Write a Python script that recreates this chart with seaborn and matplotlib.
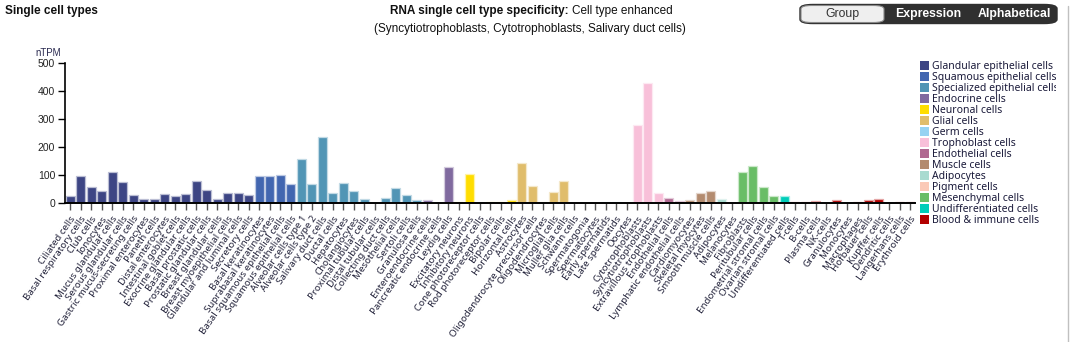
import matplotlib
matplotlib.use("Agg")
import matplotlib.pyplot as plt
import seaborn as sns
import pandas as pd
from matplotlib.patches import Patch, FancyBboxPatch
from matplotlib.lines import Line2D
from matplotlib.colors import to_rgb
from matplotlib.transforms import Bbox

# ---- data -------------------------------------------------------------
group_names = [
    "Glandular epithelial cells", "Squamous epithelial cells",
    "Specialized epithelial cells", "Endocrine cells", "Neuronal cells",
    "Glial cells", "Germ cells", "Trophoblast cells", "Endothelial cells",
    "Muscle cells", "Adipocytes", "Pigment cells", "Mesenchymal cells",
    "Undifferentiated cells", "Blood & immune cells",
]
group_colors = [
    "#3d4584", "#4266b0", "#5195b5", "#806a9f", "#ffdd00",
    "#e0bd6b", "#96d3f2", "#f8c0d9", "#b06891", "#b38b6f",
    "#a9dbd0", "#fbc9b7", "#69bd66", "#00cdb9", "#b30000",
]
group_sizes = [18, 4, 12, 3, 6, 6, 5, 3, 2, 3, 1, 1, 4, 1, 12]

cell_types = [
    "Ciliated cells", "Basal respiratory cells", "Club cells", "Ionocytes",
    "Mucus glandular cells", "Serous glandular cells",
    "Gastric mucus-secreting cells", "Proximal enterocytes", "Paneth cells",
    "Distal enterocytes", "Intestinal goblet cells", "Exocrine glandular cells",
    "Basal prostatic cells", "Prostatic glandular cells",
    "Breast glandular cells", "Breast myoepithelial cells",
    "Glandular and luminal cells", "Secretory cells",
    "Basal keratinocytes", "Suprabasal keratinocytes",
    "Basal squamous epithelial cells", "Squamous epithelial cells",
    "Alveolar cells type 1", "Alveolar cells type 2", "Salivary duct cells",
    "Ductal cells", "Hepatocytes", "Cholangiocytes", "Proximal tubular cells",
    "Distal tubular cells", "Collecting duct cells", "Mesothelial cells",
    "Sertoli cells", "Granulosa cells",
    "Enteroendocrine cells", "Pancreatic endocrine cells", "Leydig cells",
    "Excitatory neurons", "Inhibitory neurons", "Cone photoreceptor cells",
    "Rod photoreceptor cells", "Bipolar cells", "Horizontal cells",
    "Astrocytes", "Oligodendrocyte precursor cells", "Oligodendrocytes",
    "Microglial cells", "Muller glia cells", "Schwann cells",
    "Spermatogonia", "Spermatocytes", "Early spermatids", "Late spermatids",
    "Oocytes",
    "Cytotrophoblasts", "Syncytiotrophoblasts", "Extravillous trophoblasts",
    "Endothelial cells", "Lymphatic endothelial cells",
    "Cardiomyocytes", "Skeletal myocytes", "Smooth muscle cells",
    "Adipocytes", "Melanocytes",
    "Fibroblasts", "Peritubular cells", "Endometrial stromal cells",
    "Ovarian stromal cells", "Undifferentiated cells",
    "T-cells", "B-cells", "Plasma cells", "NK-cells", "Granulocytes",
    "Monocytes", "Macrophages", "Hofbauer cells", "Kupffer cells",
    "Dendritic cells", "Langerhans cells", "Erythroid cells",
]

ntpm = [
    25, 98, 58, 42, 110, 74, 27, 15, 13, 32, 24, 31, 79, 48, 13, 37, 35, 27,
    98, 96, 100, 68,
    156, 67, 236, 35, 71, 43, 14, 0, 19, 54, 29, 10,
    12, 0, 129,
    2, 105, 0, 3, 4, 11,
    142, 62, 2, 40, 80, 1,
    0, 0, 3, 3, 0,
    280, 430, 36,
    18, 6,
    10, 36, 44,
    15, 1,
    112, 133, 58, 26, 26,
    4, 4, 7, 0, 10, 0, 5, 12, 13, 0, 5, 5,
]

cell_group = [g for g, n in zip(group_names, group_sizes) for _ in range(n)]
df = pd.DataFrame({"cell": cell_types, "group": cell_group, "ntpm": ntpm})
palette = dict(zip(group_names, group_colors))

# ---- figure -----------------------------------------------------------
sns.set_theme(style="white")
plt.rcParams["font.family"] = ["Liberation Sans", "DejaVu Sans"]

W, H = 1070, 342
fig = plt.figure(figsize=(W / 100, H / 100), dpi=100)
ax = fig.add_axes([65 / W, 1 - 203 / H, 850.5 / W, 140 / H])

sns.barplot(data=df, x="cell", y="ntpm", hue="group", palette=palette,
            dodge=False, width=0.86, legend=False, ax=ax, saturation=1)


def lighten(c, amt=0.6):
    r, g, b = to_rgb(c)
    return (r + (1 - r) * amt, g + (1 - g) * amt, b + (1 - b) * amt)


for bar in ax.patches:
    bar.set_edgecolor(lighten(bar.get_facecolor()[:3], 0.65))
    bar.set_linewidth(0.9)

ax.set_xlim(-0.5, len(cell_types) - 0.5)
ax.set_ylim(0, 500)
ax.set_yticks([0, 100, 200, 300, 400, 500])
ax.set_xlabel("")
ax.set_ylabel("")
for s in ["top", "right"]:
    ax.spines[s].set_visible(False)
ax.spines["left"].set_color("black")
ax.spines["bottom"].set_color("black")
ax.spines["left"].set_linewidth(1.2)
ax.spines["bottom"].set_linewidth(1.4)

ax.tick_params(axis="y", length=5, width=1, color="black", pad=2,
               labelsize=7.5, labelcolor="#222222", left=True)
ax.tick_params(axis="x", length=5, width=1, color="#555555", pad=3,
               bottom=True)
ax.set_xticks(range(len(cell_types)))
ax.set_xticklabels(cell_types, rotation=55, ha="right", va="top",
                   rotation_mode="anchor", fontsize=7.0, color="#24243c",
                   family=["Noto Sans", "DejaVu Sans"])

ax.text(-0.02, 1.07, "nTPM", transform=ax.transAxes, fontsize=7,
        color="#2a2a50", ha="center", va="center")

# ---- legend -----------------------------------------------------------
handles = [Patch(facecolor=c, edgecolor="none") for c in group_colors]
leg = fig.legend(handles, group_names, loc="upper left",
                 bbox_to_anchor=(920 / W, 1 - 61 / H), frameon=False,
                 handlelength=0.85, handleheight=0.85, handletextpad=0.3,
                 labelspacing=0.0, borderaxespad=0, borderpad=0,
                 prop={"family": ["Noto Sans", "DejaVu Sans"], "size": 7.5})
clip = Bbox.from_extents(0, 0, 1056, H)
for t in leg.get_texts():
    t.set_color("#1a1a3a")
    t.set_clip_box(clip)
    t.set_clip_on(True)

# ---- titles -----------------------------------------------------------
fig.text(5 / W, 1 - 11 / H, "Single cell types", fontsize=8.5,
         fontweight="bold", ha="left", va="center", color="#111111")
fig.text(569 / W, 1 - 11 / H, "RNA single cell type specificity:",
         fontsize=8.5, fontweight="bold", ha="right", va="center",
         color="#111111")
fig.text(572 / W, 1 - 11 / H, "Cell type enhanced", fontsize=8.5,
         ha="left", va="center", color="#111111")
fig.text(530 / W, 1 - 29 / H,
         "(Syncytiotrophoblasts, Cytotrophoblasts, Salivary duct cells)",
         fontsize=8.5, ha="center", va="center", color="#111111")

# ---- sort buttons -----------------------------------------------------
fig.patches.append(FancyBboxPatch(
    (800 / W, 1 - 23.5 / H), 257 / W, 19 / H,
    boxstyle="round,pad=0,rounding_size=0.012", transform=fig.transFigure,
    facecolor="#303030", edgecolor="#303030", lw=1))
fig.patches.append(FancyBboxPatch(
    (801 / W, 1 - 22.5 / H), 83 / W, 17 / H,
    boxstyle="round,pad=0,rounding_size=0.01", transform=fig.transFigure,
    facecolor="#efefef", edgecolor="#888888", lw=0.8))
fig.text(842 / W, 1 - 14 / H, "Group", fontsize=8.8, ha="center",
         va="center", color="#333333")
fig.text(928 / W, 1 - 14 / H, "Expression", fontsize=8.8, ha="center",
         va="center", color="white", fontweight="bold")
fig.text(1014 / W, 1 - 14 / H, "Alphabetical", fontsize=8.8, ha="center",
         va="center", color="white", fontweight="bold")

# right-hand panel border
fig.lines.append(Line2D([1067.5 / W, 1067.5 / W], [0, 1 - 6 / H],
                        transform=fig.transFigure, color="#c0c0c0", lw=1))

fig.savefig("out.png", dpi=100)
